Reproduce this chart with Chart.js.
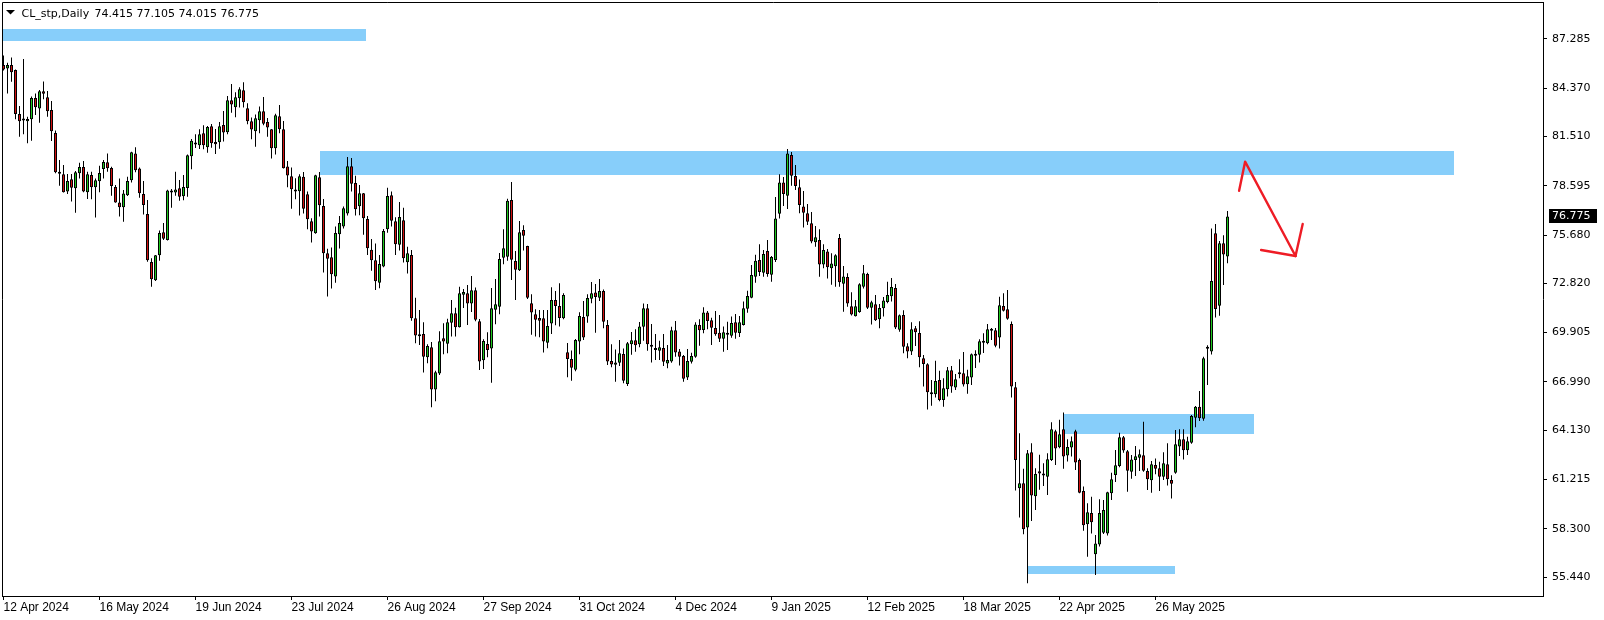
<!DOCTYPE html>
<html><head><meta charset="utf-8">
<script src="https://cdn.jsdelivr.net/npm/chart.js@4.4.1/dist/chart.umd.min.js"></script>
<style>html,body{margin:0;padding:0;background:#fff;}canvas{display:block;}</style>
</head><body>
<canvas id="c" width="1604" height="620"></canvas>
<script>
const symbolTitle = 'CL_stp,Daily';
const lastOHLC = '74.415 77.105 74.015 76.775';

const openP = [85.74,85.54,85.74,85.44,82.84,82.58,82.41,82.53,83.79,83.16,84.18,83.83,83.08,81.72,79.39,79.27,78.25,78.98,78.44,79.33,
79.71,78.21,79.23,78.50,78.86,79.59,79.98,79.65,78.52,77.61,77.32,78.03,78.92,80.51,79.61,78.11,76.92,74.08,73.00,74.48,
75.84,75.39,78.29,78.19,78.44,77.97,78.46,80.34,81.11,80.99,81.70,80.87,82.11,81.19,81.17,82.19,81.76,83.65,83.24,83.77,
84.25,83.18,82.41,81.82,82.47,83.00,82.37,81.94,80.81,82.71,81.94,79.73,79.16,78.33,78.27,79.12,78.09,76.49,75.78,79.10,
77.40,74.60,74.36,73.22,75.72,76.18,76.95,79.75,78.76,77.38,78.15,76.63,74.80,74.19,72.86,73.81,76.02,78.03,76.49,75.11,
76.55,74.07,74.50,70.75,69.77,69.82,68.44,69.03,66.53,67.48,69.57,69.25,70.49,71.05,70.22,72.15,72.23,71.62,72.41,70.57,
68.27,69.23,68.96,71.26,71.44,74.34,74.40,77.75,74.14,73.59,75.98,75.03,71.64,70.99,70.77,70.75,69.31,70.44,71.84,71.48,
70.75,68.74,68.34,67.71,69.37,70.83,70.85,71.91,72.27,71.97,72.37,70.36,68.22,68.00,68.12,68.64,66.86,69.21,69.45,69.21,
70.25,71.34,69.15,68.87,68.83,68.99,68.08,68.20,70.04,68.79,68.52,67.24,68.18,68.48,70.35,70.06,71.10,70.63,70.17,69.90,
69.54,69.90,69.72,70.51,69.88,70.35,71.32,71.97,73.21,74.20,73.45,74.73,73.33,74.20,76.94,78.79,78.00,80.41,79.17,78.50,
77.37,76.96,76.37,75.25,75.38,73.94,74.71,73.71,73.83,75.50,72.80,73.19,71.46,70.87,71.12,72.62,73.37,71.38,71.58,70.69,
71.34,71.72,72.05,72.54,70.08,70.95,69.09,68.78,70.16,69.88,68.38,68.03,66.37,66.25,67.10,65.92,66.55,67.68,66.65,67.52,
67.50,66.85,67.24,68.54,68.60,69.31,69.27,70.02,70.04,69.61,71.48,71.29,70.42,66.67,60.69,60.99,58.37,62.82,60.22,61.70,
61.44,61.38,62.37,64.07,63.12,64.18,62.63,63.10,64.07,62.36,60.53,58.56,59.23,56.78,57.37,58.06,58.02,60.39,61.48,62.01,
63.71,62.88,61.67,62.36,62.50,62.64,61.71,61.16,62.07,61.87,61.38,62.11,61.18,61.61,63.17,63.59,62.94,63.39,64.87,65.52,
64.81,68.95,68.79,75.78,71.50,75.19,74.415];

const highP = [86.30,85.88,86.19,85.48,83.31,86.10,82.68,83.87,84.06,84.26,84.77,84.20,83.61,81.87,80.12,79.82,79.29,79.29,79.47,79.96,
80.06,79.43,79.43,79.03,79.78,80.12,80.51,79.72,78.64,79.03,78.34,79.13,80.61,80.87,79.67,78.88,77.75,74.30,74.50,75.94,
76.39,78.36,78.40,79.43,78.94,79.23,80.45,81.36,81.64,81.94,82.17,82.13,82.25,81.96,82.37,83.02,83.91,84.62,84.13,84.42,
84.72,83.48,82.63,82.81,83.28,83.85,82.61,81.96,82.85,83.38,82.43,80.06,79.67,79.04,79.27,79.41,78.25,76.67,79.24,79.41,
77.81,74.86,74.94,76.18,76.81,77.36,80.30,80.24,79.18,78.64,78.17,76.81,75.45,75.17,74.50,76.04,78.47,78.25,76.73,77.64,
77.30,74.98,74.79,71.97,71.24,70.51,69.21,69.35,67.65,69.98,70.46,70.73,71.84,71.38,72.62,72.49,72.72,73.26,72.57,70.71,
69.51,69.92,72.55,73.08,74.62,76.02,77.83,78.82,74.74,76.51,76.25,75.05,72.17,71.28,71.24,71.24,71.24,72.59,72.37,72.82,
72.23,69.29,68.84,69.53,71.11,71.78,72.17,72.90,72.78,73.08,72.45,70.65,69.21,68.91,69.46,68.97,69.35,69.94,70.10,70.53,
71.63,71.59,70.41,69.82,69.42,69.82,69.17,70.25,70.59,68.93,68.58,68.93,68.71,70.51,70.69,71.40,71.18,70.79,71.18,70.94,
70.27,70.55,70.85,71.00,70.88,71.75,72.38,73.90,74.51,75.14,74.79,75.38,74.43,77.93,79.27,79.11,80.77,80.59,79.82,78.97,
78.28,77.51,77.04,76.21,76.02,75.13,74.85,74.60,74.54,75.74,73.85,73.41,72.29,71.83,72.82,73.91,73.45,71.79,72.13,71.60,
72.01,72.92,73.14,72.78,70.97,71.22,69.27,70.51,70.30,70.57,68.58,68.09,67.10,68.24,67.65,67.20,67.87,67.93,67.46,68.33,
68.76,67.70,68.66,68.86,69.51,69.87,70.42,70.18,70.18,72.02,72.23,72.43,70.56,66.98,63.95,61.84,62.96,63.36,61.88,62.67,
62.17,62.77,64.60,64.15,64.74,65.17,63.59,63.75,64.15,62.46,60.79,59.80,60.19,57.93,60.04,60.00,60.49,61.61,62.96,63.98,
63.78,62.96,62.66,63.19,62.99,64.63,61.87,62.30,62.46,62.26,62.82,63.35,61.46,64.14,64.18,64.18,63.74,65.03,65.56,66.45,
68.48,69.15,76.07,76.33,75.32,75.66,77.105];

const lowP = [85.41,84.06,84.75,82.53,81.50,81.64,81.11,81.26,82.78,82.33,83.71,82.68,81.24,79.33,78.60,78.19,78.11,77.66,77.00,79.03,
78.21,77.81,77.79,76.71,78.21,79.03,79.43,78.01,77.59,76.77,76.47,77.99,78.78,79.39,77.89,76.90,74.10,72.62,72.96,74.16,
75.39,75.35,77.30,78.01,77.71,77.73,77.95,79.57,80.83,80.77,80.75,80.55,80.85,80.48,80.79,81.21,81.64,82.92,82.65,83.22,
83.22,82.23,81.35,80.91,81.70,82.17,81.50,80.20,80.44,81.70,79.61,78.51,77.24,77.80,76.83,76.95,76.02,75.23,75.76,76.77,
73.46,72.04,72.51,72.86,74.88,76.06,76.83,78.25,76.83,76.85,75.70,74.50,73.57,72.43,72.53,73.77,75.82,76.18,74.50,74.76,
74.05,73.40,70.61,69.27,69.17,67.54,68.09,65.49,65.84,67.40,68.62,68.68,69.67,69.67,70.20,71.36,70.36,71.13,70.57,67.69,
67.75,68.44,66.94,70.40,70.99,73.95,74.16,73.02,71.84,73.55,74.76,71.89,69.77,69.67,69.63,68.72,68.98,69.82,70.34,70.26,
70.69,67.26,67.06,67.62,68.62,69.47,70.49,71.64,69.90,71.78,70.16,67.99,67.85,67.00,67.93,66.90,66.74,68.60,68.77,69.03,
69.42,68.83,68.14,68.28,68.28,67.93,67.79,68.12,68.48,67.95,67.00,67.10,68.08,68.42,69.13,69.86,70.10,69.17,69.72,69.35,
68.77,68.87,69.60,69.54,69.64,70.33,71.08,71.93,72.86,73.25,73.21,73.21,72.92,74.08,76.66,77.39,77.22,78.60,78.34,76.96,
76.13,76.27,75.19,74.99,73.21,73.71,73.10,72.74,72.62,72.62,71.14,71.44,70.91,70.85,71.08,72.52,71.30,70.39,70.59,70.16,
70.85,71.64,71.74,70.12,69.96,68.68,68.38,68.58,69.11,67.85,66.71,65.36,65.58,66.07,65.84,65.52,66.12,66.35,66.51,67.20,
66.71,66.28,66.81,67.81,68.13,68.70,69.21,69.47,69.04,68.96,71.15,70.67,66.06,60.56,58.96,57.97,55.07,58.76,59.41,60.60,
60.83,60.30,62.30,62.07,63.06,61.84,62.27,62.57,61.78,60.39,58.18,56.64,58.02,55.56,57.24,57.98,57.89,59.99,61.06,61.93,
62.80,60.49,61.26,61.42,61.71,61.67,60.59,60.43,61.52,60.53,61.18,60.86,60.08,61.55,62.60,62.40,62.66,63.33,64.30,64.67,
64.69,66.80,68.61,70.80,70.90,72.72,74.015];

const closeP = [85.48,85.74,85.31,82.84,82.41,82.45,82.55,83.79,83.24,84.18,84.04,83.00,81.82,79.39,79.31,78.21,78.88,78.48,79.39,79.71,
78.25,79.27,78.50,78.92,79.35,80.00,79.63,78.58,77.61,77.32,78.13,78.88,80.57,79.51,78.15,77.46,74.18,73.06,74.48,75.80,
75.46,78.32,78.19,78.38,77.95,78.52,80.40,81.26,81.03,81.64,80.99,82.07,81.11,81.05,82.11,81.74,83.65,83.40,83.83,84.30,
83.54,82.41,81.92,82.59,83.00,82.27,82.04,80.81,82.77,81.94,79.63,79.20,78.39,78.25,79.16,77.24,76.61,75.88,79.22,77.44,
74.60,74.28,73.36,75.80,76.39,77.26,79.75,78.72,77.20,78.15,76.67,74.90,74.19,72.94,73.97,75.92,77.99,76.53,75.13,76.75,
74.30,74.60,70.75,69.73,69.69,68.48,69.11,66.53,67.56,69.39,69.37,70.51,71.05,70.22,72.23,72.31,71.62,72.41,70.67,68.19,
69.41,68.88,71.34,71.58,74.26,74.89,77.71,74.22,73.63,75.84,75.64,71.97,71.09,70.67,70.61,69.37,70.30,71.84,71.48,70.77,
72.13,68.34,67.83,69.47,70.89,69.61,71.95,72.23,72.01,72.37,70.55,68.19,68.02,68.14,68.68,67.06,69.27,69.45,69.15,70.27,
71.34,69.21,69.07,68.97,69.03,68.18,68.28,70.04,68.73,68.48,67.18,68.22,68.52,70.39,70.04,71.10,70.59,70.19,69.80,69.54,
69.92,69.78,70.47,69.90,70.51,71.34,72.07,73.31,74.16,73.49,74.55,73.37,74.38,76.66,78.79,78.10,80.51,79.19,78.58,77.45,
77.00,76.47,75.29,75.54,73.93,74.79,73.77,74.00,74.48,72.88,73.23,71.62,70.97,71.46,72.76,73.41,71.38,71.70,70.63,71.36,
71.81,72.13,72.60,70.20,70.93,69.07,68.78,70.10,69.92,68.44,68.05,66.37,66.25,67.04,65.92,66.61,67.68,66.71,67.14,67.44,
66.83,67.32,68.62,68.60,69.39,69.39,70.10,70.10,69.12,71.52,71.19,70.73,66.71,62.37,60.99,58.27,62.77,60.26,61.54,61.56,
61.54,62.41,64.18,63.04,63.89,62.57,63.14,63.47,62.21,60.43,58.50,59.27,58.68,57.43,59.23,59.41,60.45,61.22,62.05,63.71,
62.92,61.73,62.40,62.58,62.70,61.73,61.22,62.11,61.85,61.38,62.17,61.22,60.96,63.29,63.59,62.94,63.47,64.97,65.52,64.83,
68.38,69.05,72.96,71.30,75.19,74.53,76.775];

// time axis: bar index of each date label
const xTickIdx = [0,24,48,72,96,120,144,168,192,216,240,264,288];
const xTickLabels = ['12 Apr 2024','16 May 2024','19 Jun 2024','23 Jul 2024','26 Aug 2024','27 Sep 2024','31 Oct 2024','4 Dec 2024','9 Jan 2025','12 Feb 2025','18 Mar 2025','22 Apr 2025','26 May 2025'];
const yTickVals = [87.285,84.370,81.510,78.595,75.680,72.820,69.905,66.990,64.130,61.215,58.300,55.440];

// drawn zones (bar index / price)
const zoneFrom = [-1, 79, 265, 255.9];
const zoneTo = [90.65, 362.5, 312.6, 292.85];
const zoneTop = [87.85, 80.65, 65.09, 56.10];
const zoneBottom = [87.18, 79.25, 63.90, 55.62];

// red hand-drawn arrow (bar index / price)
const arrowIdx = [308.9, 310.4, 323.0];
const arrowPrice = [78.30, 80.02, 74.44];
const arrowHeadIdx = [314.4, 324.8];
const arrowHeadPrice = [74.79, 76.33];

const UP = '#1ec81e', DOWN = '#d01010', ZONE = '#87cefa', ARROW = '#ee1c25';

const N = closeP.length;
const idx = Array.from({length: N}, (_, i) => i);
const bodies = idx.map(i => ({x: i, y: [openP[i], closeP[i]]}));
const wicks = idx.map(i => ({x: i, y: [lowP[i], highP[i]]}));
const bodyColors = idx.map(i => closeP[i] >= openP[i] ? UP : DOWN);

const zonesPlugin = {
  id: 'zones',
  beforeDatasetsDraw(chart) {
    const {ctx, chartArea: a, scales: {x, y}} = chart;
    ctx.save();
    ctx.beginPath(); ctx.rect(a.left, a.top, a.right - a.left, a.bottom - a.top); ctx.clip();
    ctx.fillStyle = ZONE;
    for (let k = 0; k < zoneFrom.length; k++) {
      const x1 = Math.round(x.getPixelForValue(zoneFrom[k]));
      const x2 = Math.round(x.getPixelForValue(zoneTo[k]));
      const y1 = Math.round(y.getPixelForValue(zoneTop[k]));
      const y2 = Math.round(y.getPixelForValue(zoneBottom[k]));
      ctx.fillRect(x1, y1, x2 - x1, y2 - y1);
    }
    ctx.restore();
  }
};

const overlayPlugin = {
  id: 'overlay',
  afterDatasetsDraw(chart) {
    const {ctx, scales: {x, y}} = chart;
    ctx.save();
    ctx.strokeStyle = ARROW; ctx.lineWidth = 2.4; ctx.lineCap = 'round'; ctx.lineJoin = 'round';
    ctx.beginPath();
    for (let k = 0; k < arrowIdx.length; k++) {
      const px = x.getPixelForValue(arrowIdx[k]), py = y.getPixelForValue(arrowPrice[k]);
      if (k === 0) ctx.moveTo(px, py); else ctx.lineTo(px, py);
    }
    ctx.stroke();
    const tx = x.getPixelForValue(arrowIdx[arrowIdx.length - 1]);
    const ty = y.getPixelForValue(arrowPrice[arrowPrice.length - 1]);
    for (let k = 0; k < arrowHeadIdx.length; k++) {
      ctx.beginPath();
      ctx.moveTo(x.getPixelForValue(arrowHeadIdx[k]), y.getPixelForValue(arrowHeadPrice[k]));
      ctx.lineTo(tx, ty);
      ctx.stroke();
    }
    ctx.restore();
  },
  afterDraw(chart) {
    const {ctx, chartArea: a, scales: {y}} = chart;
    ctx.save();
    // frame top and left
    ctx.strokeStyle = '#000'; ctx.lineWidth = 1;
    ctx.beginPath();
    ctx.moveTo(a.left + 0.5, a.bottom); ctx.lineTo(a.left + 0.5, a.top + 0.5); ctx.lineTo(a.right + 1, a.top + 0.5);
    ctx.stroke();
    // title
    ctx.fillStyle = '#000';
    ctx.beginPath(); ctx.moveTo(6, 10); ctx.lineTo(15, 10); ctx.lineTo(10.5, 14.5); ctx.closePath(); ctx.fill();
    ctx.font = '11px "DejaVu Sans"'; ctx.textBaseline = 'alphabetic'; ctx.textAlign = 'left';
    ctx.fillText(symbolTitle, 21.5, 16.5);
    ctx.fillText(lastOHLC, 94.5, 16.5);
    // last price tag
    const py = Math.round(y.getPixelForValue(closeP[N - 1]));
    ctx.fillStyle = '#000';
    ctx.fillRect(1549, py - 7, 48, 14);
    ctx.fillStyle = '#fff';
    ctx.textBaseline = 'middle';
    ctx.fillText(closeP[N - 1].toFixed(3), 1552, py + 0.5);
    ctx.restore();
  }
};

new Chart(document.getElementById('c'), {
  type: 'bar',
  data: {datasets: [
    {data: bodies, backgroundColor: bodyColors, borderColor: '#000', borderWidth: 1, borderSkipped: false,
     barThickness: 3, minBarLength: 2, inflateAmount: 0, grouped: false},
    {data: wicks, backgroundColor: '#000', borderWidth: 0, barThickness: 1, inflateAmount: 0, grouped: false}
  ]},
  options: {
    responsive: false, animation: false, devicePixelRatio: 1,
    layout: {padding: {left: 2, top: 2, right: 0, bottom: 0}},
    plugins: {legend: {display: false}, tooltip: {enabled: false}},
    scales: {
      x: {type: 'linear', position: 'bottom', min: -0.375, max: 384.875, offset: false,
        afterBuildTicks: s => { s.ticks = xTickIdx.map(v => ({value: v})); },
        afterFit: s => { s.height = 24; s.paddingLeft = 0; s.paddingRight = 0; s.paddingTop = 0; s.paddingBottom = 0; },
        grid: {drawOnChartArea: false, drawTicks: true, tickLength: 4, color: '#000', offset: false},
        border: {display: true, color: '#000', width: 1},
        ticks: {autoSkip: false, maxRotation: 0, minRotation: 0, align: 'start', padding: 0, color: '#000',
          font: {family: 'Liberation Sans', size: 12}, callback: (v, i) => xTickLabels[i]}
      },
      y: {type: 'linear', position: 'right', min: 54.316, max: 89.469,
        afterBuildTicks: s => { s.ticks = yTickVals.map(v => ({value: v})); },
        afterFit: s => { s.width = 61; s.paddingTop = 0; s.paddingBottom = 0; s.paddingLeft = 0; s.paddingRight = 0; },
        grid: {drawOnChartArea: false, drawTicks: true, tickLength: 4, color: '#000'},
        border: {display: true, color: '#000', width: 1},
        ticks: {autoSkip: false, padding: 5, color: '#000',
          font: {family: 'DejaVu Sans', size: 11}, callback: v => v.toFixed(3)}
      }
    }
  },
  plugins: [zonesPlugin, overlayPlugin]
});
</script>
</body></html>
